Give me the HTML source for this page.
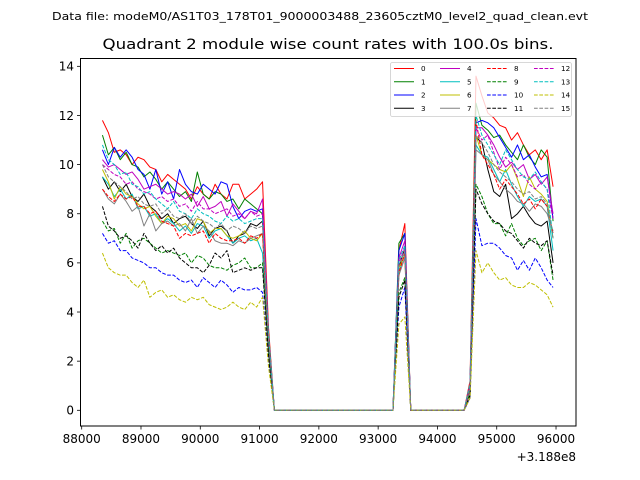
<!DOCTYPE html>
<html><head><meta charset="utf-8"><style>
html,body{margin:0;padding:0;background:#fff;}
svg{display:block;font-family:"DejaVu Sans","Liberation Sans",sans-serif;}
</style></head><body>
<svg id="chart" width="640" height="480" viewBox="0 0 640 480" xmlns="http://www.w3.org/2000/svg">
<rect width="640" height="480" fill="#fff"/>
<text x="320" y="20" font-size="11" text-anchor="middle" textLength="536" lengthAdjust="spacingAndGlyphs">Data file: modeM0/AS1T03_178T01_9000003488_23605cztM0_level2_quad_clean.evt</text>
<text x="328" y="49" font-size="14.4" text-anchor="middle" textLength="451" lengthAdjust="spacingAndGlyphs">Quadrant 2 module wise count rates with 100.0s bins.</text>
<g id="plot"></g>
<rect x="80.5" y="58.5" width="495.5" height="367.5" fill="none" stroke="#000" stroke-width="1"/>
<g id="xaxis"></g>
<g id="yaxis"></g>
<text x="576" y="461" font-size="12" text-anchor="end">+3.188e8</text>
<g id="legend"></g>
</svg>
<script>
const t0 = 88350, dt = 100;
const xTicks = [88000,89000,90000,91000,92000,93000,94000,95000,96000];
const yTicks = [0,2,4,6,8,10,12,14];
const seriesLabels = ["0","1","2","3","4","5","6","7","8","9","10","11","12","13","14","15"];
const s0 = [11.8,11.3,10.5,10.6,10.4,10.0,10.3,10.2,9.9,9.8,9.3,9.6,9.4,9.2,9.0,8.6,9.1,8.8,8.6,9.2,8.8,8.6,9.2,9.2,8.6,8.8,9.0,9.3,3.4, 0,0,0, 0,0,0, 0,0,0, 0,0,0, 0,0,0, 0,0,0, 0,0,0, 6.5,7.6, 0,0,0,0,0, 0,0,0,0,0, 1.2,13.6,12.8,12.1,11.9,11.6,11.5,11.0,11.3,10.8,10.4,10.6,10.2,10.6,9.1];
const s1 = [11.2,10.4,10.7,10.2,10.5,10.0,9.9,9.5,9.7,9.4,9.0,9.3,9.0,8.7,8.9,8.5,9.7,8.8,8.6,8.9,8.8,8.5,8.6,8.2,8.6,8.4,8.2,8.0,3.2, 0,0,0, 0,0,0, 0,0,0, 0,0,0, 0,0,0, 0,0,0, 0,0,0, 6.8,7.2, 0,0,0,0,0, 0,0,0,0,0, 1.0,12.5,11.6,11.4,11.1,11.2,10.8,10.5,10.2,10.8,10.3,10.0,10.6,10.3,7.7];
const s2 = [10.6,10.0,10.7,10.3,10.6,10.3,9.8,9.6,9.0,9.8,8.8,9.3,8.6,9.8,9.2,8.9,8.8,9.2,9.0,8.8,9.3,9.2,8.3,7.8,8.1,8.2,8.1,8.2,3.0, 0,0,0, 0,0,0, 0,0,0, 0,0,0, 0,0,0, 0,0,0, 0,0,0, 6.5,7.2, 0,0,0,0,0, 0,0,0,0,0, 1.0,11.7,11.8,11.7,11.5,11.1,10.7,10.3,10.8,10.2,10.4,9.9,9.5,9.6,7.8];
const s3 = [9.5,9.0,9.3,8.9,9.2,8.7,8.5,8.8,8.3,8.1,7.8,8.0,7.6,7.8,7.9,7.6,7.4,7.7,7.1,7.4,7.5,7.3,6.8,7.1,7.2,7.6,7.5,7.7,2.9, 0,0,0, 0,0,0, 0,0,0, 0,0,0, 0,0,0, 0,0,0, 0,0,0, 5.8,6.6, 0,0,0,0,0, 0,0,0,0,0, 0.9,11.1,10.9,9.8,8.9,8.7,9.2,7.8,8.0,8.3,7.9,7.6,7.5,7.7,6.0];
const s4 = [10.2,9.9,10.0,9.8,9.6,9.7,9.4,9.0,9.1,9.2,9.0,8.8,8.9,8.8,8.6,8.8,8.3,8.7,8.2,8.3,8.5,7.9,8.4,8.1,7.8,8.1,8.0,8.6,3.1, 0,0,0, 0,0,0, 0,0,0, 0,0,0, 0,0,0, 0,0,0, 0,0,0, 6.2,6.9, 0,0,0,0,0, 0,0,0,0,0, 1.0,11.5,11.5,11.2,10.8,10.3,9.9,10.1,9.8,10.0,9.4,9.6,9.2,9.5,8.0];
const s5 = [9.5,9.2,8.7,9.0,8.6,8.8,8.2,8.3,7.9,8.0,7.6,7.8,7.6,7.3,7.5,7.2,7.6,7.5,7.0,7.3,7.4,7.1,6.8,7.0,7.1,6.9,7.0,6.4,2.8, 0,0,0, 0,0,0, 0,0,0, 0,0,0, 0,0,0, 0,0,0, 0,0,0, 5.6,6.4, 0,0,0,0,0, 0,0,0,0,0, 0.8,10.8,10.4,10.3,9.8,9.3,9.8,9.2,8.7,8.3,8.7,8.5,8.6,8.3,6.5];
const s6 = [9.8,9.3,8.6,9.1,8.8,8.7,8.4,8.2,8.3,7.9,7.6,7.9,7.8,7.5,7.6,7.3,7.8,7.7,7.2,7.4,7.4,7.1,7.0,7.1,7.3,7.0,6.9,7.2,2.9, 0,0,0, 0,0,0, 0,0,0, 0,0,0, 0,0,0, 0,0,0, 0,0,0, 5.8,6.3, 0,0,0,0,0, 0,0,0,0,0, 0.9,11.2,10.4,10.2,10.0,9.8,9.7,10.0,9.4,8.7,9.5,9.0,8.8,8.5,7.0];
const s7 = [9.0,8.6,8.4,8.8,8.5,8.1,8.3,7.5,8.0,7.3,7.6,7.7,7.5,7.6,7.3,7.8,7.2,7.5,7.3,6.9,6.8,6.8,6.7,6.9,6.8,7.0,7.1,7.2,2.7, 0,0,0, 0,0,0, 0,0,0, 0,0,0, 0,0,0, 0,0,0, 0,0,0, 5.5,6.2, 0,0,0,0,0, 0,0,0,0,0, 0.8,10.6,10.4,10.2,9.6,9.3,9.0,8.8,8.5,8.4,8.1,8.4,8.3,8.0,7.3];
const s8 = [9.0,8.7,8.5,8.8,8.6,8.7,8.3,8.3,8.0,8.1,7.7,7.6,7.5,7.0,7.2,7.1,7.2,7.3,6.8,7.2,7.0,6.9,6.9,7.0,6.8,7.1,7.0,7.2,2.8, 0,0,0, 0,0,0, 0,0,0, 0,0,0, 0,0,0, 0,0,0, 0,0,0, 5.6,6.4, 0,0,0,0,0, 0,0,0,0,0, 0.9,11.8,10.4,10.0,9.6,9.0,9.4,9.1,8.8,8.4,8.6,8.2,8.6,8.3,7.2];
const s9 = [7.7,7.3,7.4,6.8,7.2,6.6,6.9,7.0,6.8,6.6,6.4,6.5,6.4,6.3,6.4,6.0,6.3,6.2,5.9,5.8,5.8,5.7,5.9,6.0,6.2,5.8,5.8,6.0,2.4, 0,0,0, 0,0,0, 0,0,0, 0,0,0, 0,0,0, 0,0,0, 0,0,0, 4.8,5.4, 0,0,0,0,0, 0,0,0,0,0, 0.7,9.2,8.7,8.0,7.6,7.6,7.1,7.6,7.0,6.7,6.9,7.0,6.5,6.9,5.3];
const s10 = [7.2,6.8,6.9,6.5,6.5,6.2,6.1,6.0,5.8,5.8,5.6,5.5,5.5,5.3,5.2,5.3,5.0,5.4,5.2,5.0,5.3,5.1,4.8,5.0,4.9,4.9,5.0,4.8,2.0, 0,0,0, 0,0,0, 0,0,0, 0,0,0, 0,0,0, 0,0,0, 0,0,0, 4.2,5.0, 0,0,0,0,0, 0,0,0,0,0, 0.5,7.8,6.7,6.8,6.8,6.6,6.3,6.2,5.7,6.1,5.7,6.2,5.8,5.3,5.0];
const s11 = [8.3,7.5,7.3,7.0,7.1,6.9,6.6,7.2,6.8,6.5,6.7,6.4,6.6,6.2,6.0,5.8,5.8,5.6,5.9,6.4,6.2,6.5,5.6,5.7,5.8,5.7,5.8,5.8,2.3, 0,0,0, 0,0,0, 0,0,0, 0,0,0, 0,0,0, 0,0,0, 0,0,0, 4.6,5.3, 0,0,0,0,0, 0,0,0,0,0, 0.6,9.0,8.4,8.0,7.7,7.6,7.3,7.2,6.9,6.6,7.0,6.8,6.7,6.9,5.5];
const s12 = [10.0,9.8,9.6,9.5,9.2,9.3,9.0,8.9,8.8,8.6,8.7,8.5,8.6,8.3,8.4,8.1,8.5,8.2,8.2,8.0,8.1,8.2,7.9,8.0,7.8,8.1,7.9,8.0,3.0, 0,0,0, 0,0,0, 0,0,0, 0,0,0, 0,0,0, 0,0,0, 0,0,0, 6.0,6.6, 0,0,0,0,0, 0,0,0,0,0, 1.0,11.5,11.0,11.2,10.5,9.8,10.3,10.0,9.5,9.6,9.2,9.0,9.3,9.0,7.8];
const s13 = [10.8,10.2,10.0,9.6,9.7,9.2,9.1,8.8,8.9,8.6,8.4,8.2,8.5,8.1,8.0,7.8,8.2,8.0,7.9,7.7,7.6,7.9,7.7,7.8,7.6,7.7,7.8,7.8,3.1, 0,0,0, 0,0,0, 0,0,0, 0,0,0, 0,0,0, 0,0,0, 0,0,0, 6.1,6.7, 0,0,0,0,0, 0,0,0,0,0, 1.1,12.0,11.2,10.8,10.4,10.0,10.6,10.2,9.8,9.5,9.4,9.7,9.3,9.0,7.0];
const s14 = [6.4,5.8,5.6,5.5,5.5,5.2,5.0,5.3,4.6,4.8,4.9,4.6,4.7,4.5,4.4,4.6,4.5,4.6,4.3,4.2,4.1,4.2,4.4,4.2,4.1,4.4,4.2,4.6,1.8, 0,0,0, 0,0,0, 0,0,0, 0,0,0, 0,0,0, 0,0,0, 0,0,0, 3.5,3.8, 0,0,0,0,0, 0,0,0,0,0, 0.5,6.5,5.6,6.0,5.6,5.3,5.4,5.1,5.0,5.0,5.2,5.1,4.9,4.7,4.2];
const s15 = [10.0,9.5,9.3,9.1,8.9,8.6,8.7,8.4,8.3,8.4,8.0,8.2,7.9,7.8,8.0,7.6,7.9,7.7,7.6,7.4,7.6,7.3,7.5,7.4,7.2,7.5,7.4,7.5,2.9, 0,0,0, 0,0,0, 0,0,0, 0,0,0, 0,0,0, 0,0,0, 0,0,0, 5.9,6.5, 0,0,0,0,0, 0,0,0,0,0, 0.9,11.2,10.9,10.5,10.0,9.7,9.5,9.3,9.0,8.8,8.9,8.6,8.7,8.4,7.0];
const seriesData = [s0,s1,s2,s3,s4,s5,s6,s7,s8,s9,s10,s11,s12,s13,s14,s15];
const colors = ["#ff0000","#008000","#0000ff","#000000","#bf00bf","#00bfbf","#bfbf00","#808080"];

const NS = "http://www.w3.org/2000/svg";
function xs(v){ return 81.7 + (v - 88000) * 0.05929; }
function ys(v){ return 410.3 - v * 24.57; }
function mk(tag, attrs, parent){ const e = document.createElementNS(NS, tag); for (const k in attrs) e.setAttribute(k, attrs[k]); parent.appendChild(e); return e; }

const plot = document.getElementById('plot');
seriesData.forEach((arr, i) => {
  const pts = arr.map((v, k) => xs(t0 + k * dt).toFixed(2) + "," + ys(v).toFixed(2)).join(" ");
  const attrs = {points: pts, fill: "none", stroke: colors[i % 8], "stroke-width": 1, "stroke-linejoin": "round"};
  if (i >= 8) attrs["stroke-dasharray"] = "3.7,1.6";
  const pl = mk('polyline', attrs, plot);
  
  
});

const xa = document.getElementById('xaxis');
xTicks.forEach(t => {
  const x = xs(t);
  const l = mk('line', {x1: x, x2: x, y1: 426, y2: 429.5, stroke: "#000", "stroke-width": 0.8}, xa);
  
  
  const tx = mk('text', {x: x, y: 443, "font-size": 12, "text-anchor": "middle"}, xa);
  tx.textContent = String(t);
  
  
});
const ya = document.getElementById('yaxis');
yTicks.forEach(t => {
  const y = ys(t);
  const l = mk('line', {x1: 77, x2: 80.5, y1: y, y2: y, stroke: "#000", "stroke-width": 0.8}, ya);
  
  
  const tx = mk('text', {x: 74, y: y + 4.3, "font-size": 12, "text-anchor": "end"}, ya);
  tx.textContent = String(t);
  
  
});

const lg = document.getElementById('legend');
const box = mk('rect', {x: 390.5, y: 62.5, width: 181, height: 54, rx: 2, fill: "#fff", "fill-opacity": 0.8, stroke: "#ccc", "stroke-width": 0.8}, lg);


const colX = [394, 440, 487, 534];
const rowY = [68.5, 81.8, 95, 108.3];
seriesLabels.forEach((lab, i) => {
  const c = Math.floor(i / 4), r = i % 4;
  const g = mk('g', {}, lg);
  
  
  const la = {x1: colX[c], x2: colX[c] + 20, y1: rowY[r], y2: rowY[r], stroke: colors[i % 8], "stroke-width": 1};
  if (i >= 8) la["stroke-dasharray"] = "3.7,1.6";
  mk('line', la, g);
  const tx = mk('text', {x: colX[c] + 27, y: rowY[r] + 2.5, "font-size": 7.2}, g);
  tx.textContent = lab;
});
</script>
</body></html>
